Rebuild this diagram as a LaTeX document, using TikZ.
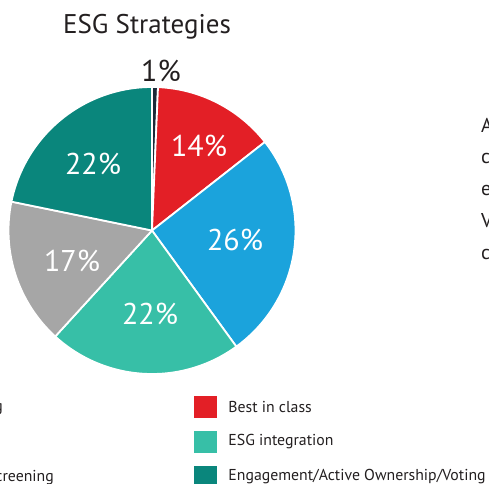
\documentclass[tikz,border=0pt]{standalone}
\usepackage{fontspec}
\setmainfont{PT Sans}
\usetikzlibrary{positioning}

\definecolor{esgnavy}{HTML}{1C2A39}
\definecolor{esgred}{HTML}{E31F26}
\definecolor{esgblue}{HTML}{1BA3DC}
\definecolor{esgmint}{HTML}{37BFA7}
\definecolor{esggray}{HTML}{A6A6A6}
\definecolor{esgteal}{HTML}{0A867C}
\definecolor{esgtext}{HTML}{231F20}

\begin{document}
\begin{tikzpicture}[x=1pt, y=1pt,
        slice/.style={draw=white, line width=1.8pt, line join=round},
        pct/.style={text=white, inner sep=0pt, font=\fontsize{30}{30}\selectfont},
        keybox/.style={minimum width=23pt, minimum height=22pt, inner sep=0pt},
        keytext/.style={text=esgtext, inner sep=0pt, font=\fontsize{15.8}{15.8}\selectfont},
        sidetext/.style={text=esgtext, inner sep=0pt, font=\fontsize{20}{20}\selectfont}]
        \useasboundingbox (0,0) rectangle (489,483);
        \clip (0,0) rectangle (489,483);

        % pie
        \coordinate (O) at (152,252.5);
        \foreach \a/\b/\c in {90/87.6/esgnavy, 87.6/38.1/esgred, 38.1/-54/esgblue,
                -54/-132.4/esgmint, -132.4/-191.6/esggray, -191.6/-270/esgteal}
            \filldraw[slice, fill=\c, shift={(O)}] (0,0) -- (\a:143.5)
                arc[start angle=\a, end angle=\b, radius=143.5] -- cycle;

        \node (title) [text=esgtext, font=\fontsize{27}{27}\selectfont] at (147,456) {ESG Strategies};

        \node (p1) [pct, text=esgtext] at (161,412) {1\%};
        \node (p14) [pct] at (199,337) {14\%};
        \node (p26) [pct] at (235,243) {26\%};
        \node (p22a) [pct] at (150,169) {22\%};
        \node (p17) [pct] at (72,222) {17\%};
        \node (p22b) [pct] at (93,319) {22\%};

        % legend
        \node (kbest) [keybox, fill=esgred] at (205.5,76) {};
        \node (kint) [keybox, fill=esgmint, below=12.5pt of kbest] {};
        \node (keng) [keybox, fill=esgteal, below=12.5pt of kint] {};
        \node (tbest) [keytext, right=11pt of kbest] {Best in class};
        \node (tint) [keytext, right=11pt of kint] {ESG integration};
        \node (teng) [keytext, right=11pt of keng] {Engagement/Active Ownership/Voting};

        \node (tleft1) [keytext, anchor=east] at (3,74) {g};
        \node (tleft3) [keytext, anchor=east] at (54,5) {screening};

        % cut text on the right
        \foreach \ch/\yy [count=\i] in {A/351, c/320, e/288, V/256, c/224}
            \node (side\i) [sidetext, anchor=base west] at (481,\yy) {\ch};
    \end{tikzpicture}
\end{document}
